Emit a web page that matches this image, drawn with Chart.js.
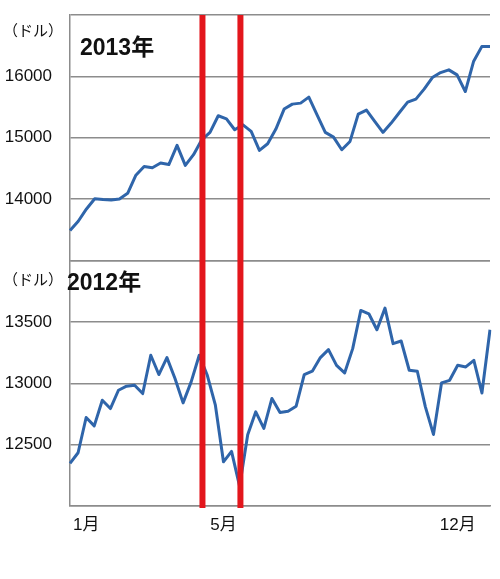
<!DOCTYPE html>
<html>
<head>
<meta charset="utf-8">
<script src="https://cdn.jsdelivr.net/npm/chart.js@4/dist/chart.umd.min.js"></script>
<style>
  html, body { margin: 0; padding: 0; background: #ffffff; }
  #wrap { position: relative; width: 500px; height: 579px; }
  canvas { position: absolute; left: 0; top: 0; }
  .lbl { position: absolute; font-family: "Liberation Sans", "Noto Sans CJK JP", sans-serif; color: #111; white-space: nowrap; line-height: 1; }
  .unit { font-size: 15px; }
  .year { font-size: 23px; font-weight: bold; }
</style>
</head>
<body>
<div id="wrap">
  <canvas id="c" width="500" height="579"></canvas>
  <div class="lbl unit" style="left:3px; top:23px;">（ドル）</div>
  <div class="lbl year" style="left:80px; top:36px;">2013年</div>
  <div class="lbl unit" style="left:3px; top:272px;">（ドル）</div>
  <div class="lbl year" style="left:67px; top:271px;">2012年</div>
</div>
<script>
// ---- data ----
const weeks2012 = ['1','2','3','4','5','6','7','8','9','10','11','12','13','14','15','16','17','18','19','20',
  '21','22','23','24','25','26','27','28','29','30','31','32','33','34','35','36','37','38','39','40',
  '41','42','43','44','45','46','47','48','49','50','51','52','53'];
const weeks2013 = ['1','2','3','4','5','6','7','8','9','10','11','12','13','14','15','16','17','18','19','20',
  '21','22','23','24','25','26','27','28','29','30','31','32','33','34','35','36','37','38','39','40',
  '41','42','43','44','45','46','47','48','49','50','51','52'];

const dow2013 = [13490, 13640, 13840, 14005, 13992, 13987, 14003, 14095, 14390, 14533,
  14512, 14588, 14563, 14875, 14550, 14724, 14967, 15087, 15358, 15309,
  15130, 15211, 15103, 14794, 14902, 15141, 15467, 15548, 15564, 15662,
  15374, 15087, 15011, 14805, 14940, 15385, 15450, 15265, 15087, 15239,
  15411, 15580, 15629, 15792, 15981, 16062, 16106, 16024, 15753, 16241,
  16485, 16485];

const dow2012 = [12347, 12434, 12721, 12653, 12862, 12794, 12943, 12976, 12984, 12916,
  13228, 13071, 13209, 13038, 12840, 13011, 13228, 13065, 12821, 12360,
  12445, 12160, 12580, 12767, 12632, 12876, 12762, 12772, 12813, 13071,
  13098, 13209, 13274, 13146, 13084, 13282, 13593, 13566, 13436, 13612,
  13323, 13344, 13106, 13098, 12808, 12583, 13003, 13024, 13146, 13133,
  13187, 12921, 13436];

const monthTickLabels = ['1月', '5月', '12月'];
const monthTickWeeks = [2, 19, 48];
const markerWeeks = [16.4, 21.1];
const ticks2013 = [14000, 15000, 16000];
const ticks2012 = [12500, 13000, 13500];

// ---- chart ----
Chart.defaults.font.family = '"Liberation Sans", "Noto Sans CJK JP", sans-serif';
Chart.defaults.color = '#111111';

const GRID = '#8c8c8c';
const BLUE = '#2f65aa';
const RED = '#e3161c';

const markerPlugin = {
  id: 'markers',
  afterDatasetsDraw(chart) {
    const ctx = chart.ctx;
    const xs = chart.scales.x;
    const area = chart.chartArea;
    ctx.save();
    ctx.strokeStyle = RED;
    ctx.lineWidth = 6;
    markerWeeks.forEach(w => {
      const px = xs.getPixelForValue(w);
      ctx.beginPath();
      ctx.moveTo(px, area.top);
      ctx.lineTo(px, area.bottom + 2);
      ctx.stroke();
    });
    ctx.restore();
  }
};

const noPad = s => { s.paddingTop = 0; s.paddingBottom = 0; s.paddingLeft = 0; s.paddingRight = 0; };

new Chart(document.getElementById('c'), {
  type: 'line',
  data: {
    labels: weeks2012,
    datasets: [
      {
        label: '2012年',
        data: dow2012,
        xAxisID: 'x',
        yAxisID: 'y2012',
        borderColor: BLUE,
        borderWidth: 3,
        pointRadius: 0,
        tension: 0,
        borderJoinStyle: 'round'
      },
      {
        label: '2013年',
        data: dow2013,
        xAxisID: 'xTop',
        yAxisID: 'y2013',
        borderColor: BLUE,
        borderWidth: 3,
        pointRadius: 0,
        tension: 0,
        borderJoinStyle: 'round'
      }
    ]
  },
  options: {
    responsive: false,
    animation: false,
    events: [],
    layout: { padding: { top: 15, right: 10, left: 0, bottom: 0 } },
    plugins: { legend: { display: false }, tooltip: { enabled: false } },
    scales: {
      x: {
        type: 'category',
        position: 'bottom',
        grid: { display: false, drawTicks: false },
        border: { display: true, color: GRID, width: 1.5 },
        ticks: {
          autoSkip: false,
          maxRotation: 0,
          minRotation: 0,
          padding: 9,
          font: { size: 17 },
          color: '#111111',
          callback: (v, i) => {
            const k = monthTickWeeks.indexOf(i);
            return k >= 0 ? monthTickLabels[k] : '';
          }
        },
        afterFit: s => { s.height = 73; noPad(s); }
      },
      xTop: {
        type: 'category',
        labels: weeks2013,
        display: false
      },
      y2012: {
        type: 'linear',
        position: 'left',
        stack: 'years',
        stackWeight: 1,
        min: 12000,
        max: 14000,
        grid: { color: GRID, lineWidth: 1.5, drawTicks: false },
        border: { display: true, color: GRID, width: 1.5 },
        ticks: {
          stepSize: 500,
          padding: 18,
          font: { size: 17 },
          color: '#111111',
          callback: v => ticks2012.includes(v) ? String(v) : ''
        },
        afterFit: s => { s.width = 70; noPad(s); }
      },
      y2013: {
        type: 'linear',
        position: 'left',
        stack: 'years',
        stackWeight: 1,
        min: 13000,
        max: 17000,
        grid: { color: GRID, lineWidth: 1.5, drawTicks: false },
        border: { display: true, color: GRID, width: 1.5 },
        ticks: {
          stepSize: 1000,
          padding: 18,
          font: { size: 17 },
          color: '#111111',
          callback: v => ticks2013.includes(v) ? String(v) : ''
        },
        afterFit: s => { s.width = 70; noPad(s); }
      }
    }
  },
  plugins: [markerPlugin]
});
</script>
</body>
</html>
